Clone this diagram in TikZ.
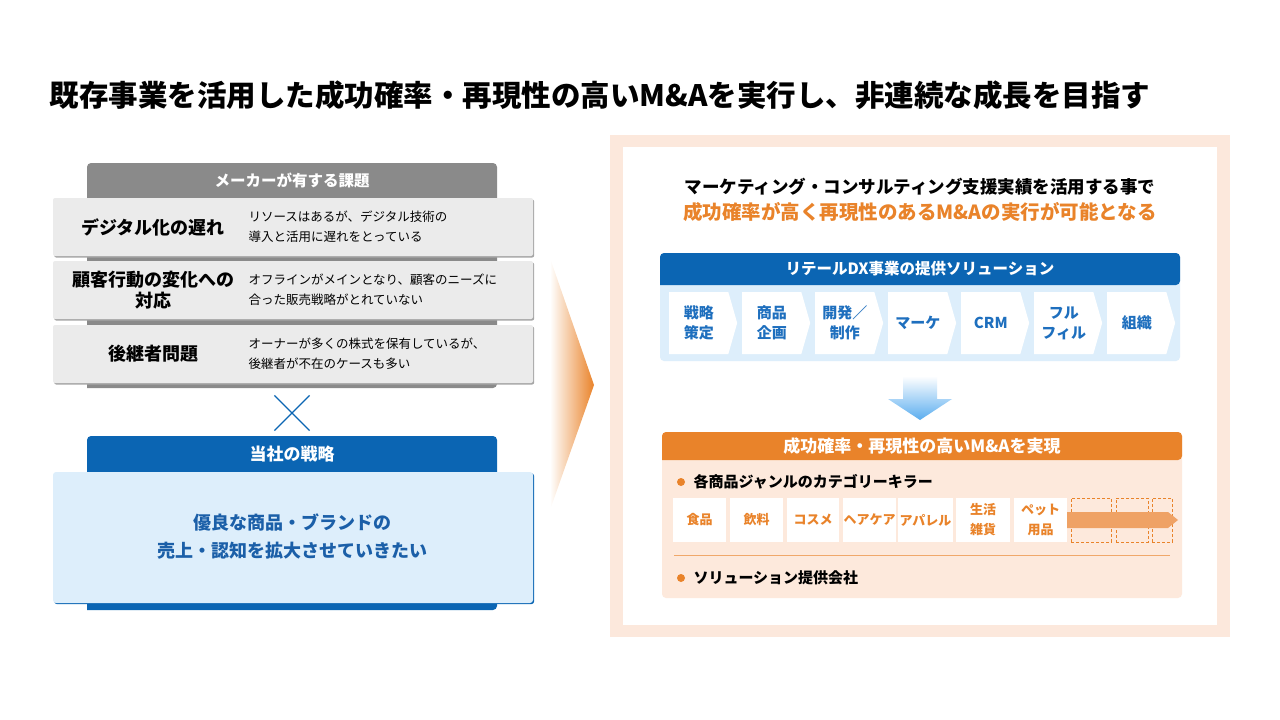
\documentclass[tikz,border=0pt]{standalone}
\usepackage{fontspec}
\setmainfont{Noto Sans CJK JP}
\usetikzlibrary{shapes.symbols,shapes.misc,shadows}
\definecolor{dblue}{HTML}{0B65B3}
\definecolor{lblue}{HTML}{DDEEFB}
\definecolor{tblue}{HTML}{1B5FA8}
\definecolor{cblue}{HTML}{1E6FBE}
\definecolor{abblue}{HTML}{5AADEF}
\definecolor{hdgray}{HTML}{8A8A8A}
\definecolor{rowgray}{HTML}{EBEBEB}
\definecolor{orng}{HTML}{E9832A}
\definecolor{oarrow}{HTML}{EFA265}
\definecolor{obg}{HTML}{FDE9DC}
\definecolor{frame}{HTML}{FCE8DC}
\newcommand\fsz[2]{\fontsize{#1}{#2}\selectfont}

\begin{document}
\begin{tikzpicture}[x=1pt,y=-1pt,
 hd/.style={text=white,font=\bfseries\fsz{15.5}{18}},
 row/.style={fill=rowgray,rounded corners=2pt,minimum width=480pt,minimum height=58pt,
  drop shadow={shadow xshift=1.2pt,shadow yshift=-1.5pt,fill=black!35,opacity=1}},
 ttl/.style={font=\bfseries\fsz{18}{21},align=center},
 desc/.style={anchor=west,font=\fsz{12.5}{20},align=left},
 chev/.style={signal,signal to=east,signal pointer angle=148,fill=white,minimum width=68pt,
  minimum height=62pt,inner sep=0pt,anchor=west,text=cblue,font=\bfseries\fsz{15}{20},align=center},
 item/.style={fill=white,minimum height=44pt,inner sep=0pt,text=orng,font=\bfseries\fsz{13}{20},align=center},
 dbox/.style={draw=orng,line width=0.6pt,dash pattern=on 3pt off 2pt,minimum height=44pt,inner sep=0pt},
 bul/.style={anchor=west,font=\bfseries\fsz{15}{18}}]
\useasboundingbox (0,0) rectangle (1280,720);

% title
\node[anchor=west,font=\bfseries\fsz{29.5}{32}] (title) at (46,95)
 {既存事業を活用した成功確率・再現性の高いM\&Aを実行し、非連続な成長を目指す};

% left: issues of makers
\fill[hdgray] (87,388) [rounded corners=4pt] |- (292,163) -| (497,388) [sharp corners] -- cycle;
\node[hd] (issues) at (292,180) {メーカーが有する課題};
\node[row] (r1) at (293,227) {};
\node[row] (r2) at (293,290) {};
\node[row] (r3) at (293,354) {};
\node[ttl] (t1) at (153,227) {デジタル化の遅れ};
\node[ttl] (t2) at (153,290) {顧客行動の変化への\\対応};
\node[ttl] (t3) at (153,354) {後継者問題};
\node[desc] (d1) at (245,227) {リソースはあるが、デジタル技術の\\導入と活用に遅れをとっている};
\node[desc] (d2) at (245,290) {オフラインがメインとなり、顧客のニーズに\\合った販売戦略がとれていない};
\node[desc] (d3) at (245,354) {オーナーが多くの株式を保有しているが、\\後継者が不在のケースも多い};

\node[cross out,draw=dblue,line width=1.2pt,minimum size=34pt,inner sep=0pt] (times) at (292,413) {};

% left: our strategy
\fill[dblue] (87,610) [rounded corners=4pt] |- (292,436) -| (497,610) [sharp corners] -- cycle;
\node[hd,font=\bfseries\fsz{17}{20}] (strathd) at (292,454) {当社の戦略};
\node[fill=lblue,rounded corners=3pt,minimum width=480pt,minimum height=131pt,
 drop shadow={shadow xshift=1.2pt,shadow yshift=-1.2pt,fill=dblue,opacity=1}] (strat) at (293,537.5) {};
\node[text=tblue,font=\bfseries\fsz{18}{28},align=center] (stratt) at (292,537)
 {優良な商品・ブランドの\\売上・認知を拡大させていきたい};

% big gradient arrow
\shade[left color=white,right color=orng] (550,258) -- (594,385) -- (550,510) -- cycle;

% right frame
\fill[frame] (610,135) rectangle (1230,637);
\fill[white] (623,147) rectangle (1217,625);
\node[font=\bfseries\fsz{17.5}{20}] (lead1) at (920,187) {マーケティング・コンサルティング支援実績を活用する事で};
\node[text=orng,font=\bfseries\fsz{19.5}{22}] (lead2) at (920,212) {成功確率が高く再現性のあるM\&Aの実行が可能となる};

% retail DX solutions
\fill[lblue,rounded corners=4pt] (660,253) rectangle (1180,361);
\fill[dblue] (660,285) [rounded corners=4pt] |- (920,253) -| (1180,285) [sharp corners] -- cycle;
\node[hd] (dxhd) at (920,269) {リテールDX事業の提供ソリューション};
\node[chev] (c1) at (669,323) {戦略\\策定};
\node[chev] (c2) at (742,323) {商品\\企画};
\node[chev] (c3) at (815,323) {開発／\\制作};
\node[chev] (c4) at (888,323) {マーケ};
\node[chev] (c5) at (961,323) {CRM};
\node[chev] (c6) at (1034,323) {フル\\フィル};
\node[chev] (c7) at (1107,323) {組織};

\shade[top color=white,bottom color=abblue] (903,376) -- (937,376) -- (937,399) -- (952,399)
 -- (920,420) -- (888,399) -- (903,399) -- cycle;

% M&A
\fill[obg,rounded corners=4pt] (662,432) rectangle (1182,598);
\fill[orng] (662,460) [rounded corners=4pt] |- (922,432) -| (1182,460) [sharp corners] -- cycle;
\node[hd,font=\bfseries\fsz{17}{20}] (mahd) at (922,446) {成功確率・再現性の高いM\&Aを実現};
\fill[orng] (681,482) circle (4pt);
\node[bul] (b1) at (690,482) {各商品ジャンルのカテゴリーキラー};
\node[item,minimum width=53pt] (g1) at (699.5,520) {食品};
\node[item,minimum width=53pt] (g2) at (756.5,520) {飲料};
\node[item,minimum width=52pt] (g3) at (813,520) {コスメ};
\node[item,minimum width=53pt] (g4) at (869.5,520) {ヘアケア};
\node[item,minimum width=55pt] (g5) at (925.5,520) {アパレル};
\node[item,minimum width=54pt] (g6) at (983,520) {生活\\雑貨};
\node[item,minimum width=53pt] (g7) at (1040.5,520) {ペット\\用品};
\node[dbox,minimum width=40pt] (e1) at (1091,520) {};
\node[dbox,minimum width=32pt] (e2) at (1132,520) {};
\node[dbox,minimum width=20pt] (e3) at (1162,520) {};
\fill[oarrow] (1067,512) -- (1168,512) -- (1178,520) -- (1168,528) -- (1067,528) -- cycle;
\draw[orng!70,line width=0.6pt] (674,555) -- (1170,555);
\fill[orng] (681,578) circle (4pt);
\node[bul] (b2) at (690,578) {ソリューション提供会社};
\end{tikzpicture}
\end{document}
